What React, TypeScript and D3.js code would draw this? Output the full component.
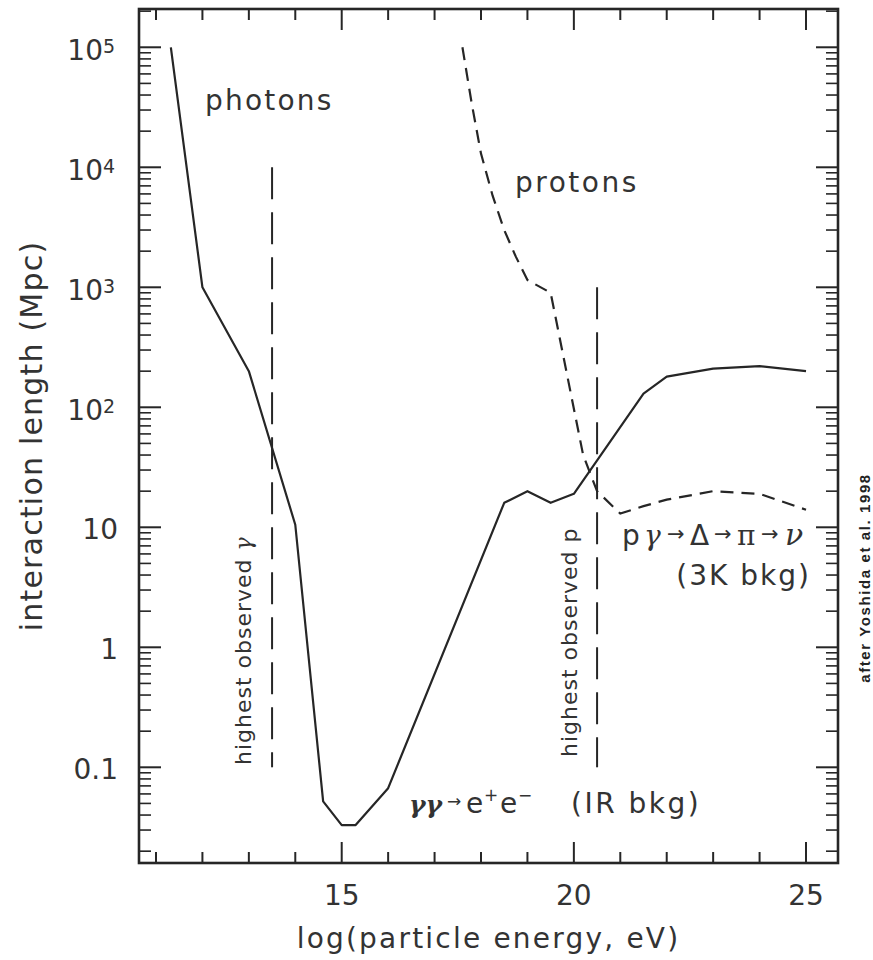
import React from "react";
import * as d3 from "d3";

// ---- data ----
const photonEnergy = [11.32, 12, 13, 14, 14.6, 15, 15.3, 16, 18.5, 19, 19.5, 20, 21.5, 22, 23, 24, 25];
const photonLength = [1e5, 1000, 200, 10.5, 0.052, 0.033, 0.033, 0.067, 16, 20, 16, 19, 130, 180, 210, 220, 200];

const protonEnergy = [17.6, 17.8, 18, 18.25, 18.5, 18.75, 19, 19.5, 20.2, 20.5, 21, 21.5, 22, 23, 24, 25];
const protonLength = [1e5, 3.4e4, 1.3e4, 5.8e3, 3.0e3, 1.8e3, 1.15e3, 900, 40, 20, 13, 15, 17, 20, 19, 14];

// highest observed energies (log eV) and vertical extent (Mpc)
const observedGamma = { energy: 13.5, top: 1e4, bottom: 0.1 };
const observedProton = { energy: 20.5, top: 1e3, bottom: 0.1 };

const xTickValues = [11, 12, 13, 14, 15, 16, 17, 18, 19, 20, 21, 22, 23, 24, 25];
const xMajorValues = [15, 20, 25];
const xTickLabels = ["15", "20", "25"];

const yTickValues = [0.1, 1, 10, 100, 1000, 1e4, 1e5];
const yTickBase = ["0.1", "1", "10", "10", "10", "10", "10"];
const yTickExp = ["", "", "", "2", "3", "4", "5"];
const yDecadeExponents = [-2, -1, 0, 1, 2, 3, 4, 5];
const yMinorMultipliers = [2, 3, 4, 5, 6, 7, 8, 9];

// ---- layout ----
const W = 873;
const H = 960;
const L = 139, R = 838, T = 9, B = 863;
const INK = "#262626";
const TXT = "#333";
const FONT = "'DejaVu Sans', sans-serif";
const SERIF = "'DejaVu Serif', serif";

export default function App() {
  const x = d3.scaleLinear().domain([10.634, 25.689]).range([L, R]);
  const y = d3.scaleLog().domain([Math.pow(10, -1.7975), Math.pow(10, 5.319)]).range([B, T]);

  const line = d3
    .line<[number, number]>()
    .x((d) => x(d[0]))
    .y((d) => y(d[1]));

  const photonPts = photonEnergy.map((e, i) => [e, photonLength[i]] as [number, number]);
  const protonPts = protonEnergy.map((e, i) => [e, protonLength[i]] as [number, number]);

  const yMinor: number[] = [];
  yDecadeExponents.forEach((p) =>
    yMinorMultipliers.forEach((m) => {
      const v = m * Math.pow(10, p);
      const py = y(v);
      if (py >= T + 1 && py <= B - 1) yMinor.push(v);
    })
  );

  const tickW = 2;
  const xMajLen = 21, xMinLen = 11, yMajLen = 22, yMinLen = 12;

  return (
    <svg width={W} height={H} viewBox={`0 0 ${W} ${H}`} style={{ display: "block", position: "absolute", left: 0, top: 0, background: "#fff" }}>
      <rect x={0} y={0} width={W} height={H} fill="#fff" />

      {/* ticks x (bottom & top, inward) */}
      {xTickValues.map((v) => {
        const major = xMajorValues.includes(v);
        const len = major ? xMajLen : xMinLen;
        return (
          <g key={"xt" + v} stroke={INK} strokeWidth={tickW}>
            <line x1={x(v)} x2={x(v)} y1={B} y2={B - len} />
            <line x1={x(v)} x2={x(v)} y1={T} y2={T + len} />
          </g>
        );
      })}
      {/* ticks y (left & right, inward) */}
      {yTickValues.map((v) => (
        <g key={"ytM" + v} stroke={INK} strokeWidth={tickW}>
          <line x1={L} x2={L + yMajLen} y1={y(v)} y2={y(v)} />
          <line x1={R} x2={R - yMajLen} y1={y(v)} y2={y(v)} />
        </g>
      ))}
      {yMinor.map((v) => (
        <g key={"ytm" + v} stroke={INK} strokeWidth={1.6}>
          <line x1={L} x2={L + yMinLen} y1={y(v)} y2={y(v)} />
          <line x1={R} x2={R - yMinLen} y1={y(v)} y2={y(v)} />
        </g>
      ))}

      {/* frame */}
      <rect x={L} y={T} width={R - L} height={B - T} fill="none" stroke={INK} strokeWidth={2.6} />

      {/* x tick labels */}
      {xMajorValues.map((v, i) => (
        <text key={"xl" + v} x={x(v)} y={905} textAnchor="middle" fontFamily={FONT} fontSize={28} fill={TXT}>
          {xTickLabels[i]}
        </text>
      ))}
      {/* y tick labels */}
      {yTickValues.map((v, i) =>
        yTickExp[i] ? (
          <g key={"yl" + v} fontFamily={FONT} fill={TXT}>
            <text x={103} y={y(v) + 12.5} textAnchor="end" fontSize={28}>
              {yTickBase[i]}
            </text>
            <text x={103} y={y(v) + 6} textAnchor="start" fontSize={19}>
              {yTickExp[i]}
            </text>
          </g>
        ) : (
          <text key={"yl" + v} x={118} y={y(v) + 11.5} textAnchor="end" fontFamily={FONT} fontSize={28} fill={TXT}>
            {yTickBase[i]}
          </text>
        )
      )}

      {/* axis titles */}
      <text x={(L + R) / 2} y={948} textAnchor="middle" fontFamily={FONT} fontSize={28} letterSpacing={2.2} fill={TXT}>
        log(particle energy, eV)
      </text>
      <text
        transform={`translate(42, ${(T + B) / 2}) rotate(-90)`}
        textAnchor="middle"
        fontFamily={FONT}
        fontSize={30}
        letterSpacing={1.2}
        fill={TXT}
      >
        interaction length (Mpc)
      </text>

      {/* vertical "highest observed" dashed lines */}
      <line
        x1={x(observedGamma.energy)}
        x2={x(observedGamma.energy)}
        y1={y(observedGamma.top)}
        y2={y(observedGamma.bottom)}
        stroke={INK}
        strokeWidth={2}
        strokeDasharray="32,13"
      />
      <line
        x1={x(observedProton.energy)}
        x2={x(observedProton.energy)}
        y1={y(observedProton.top)}
        y2={y(observedProton.bottom)}
        stroke={INK}
        strokeWidth={2}
        strokeDasharray="32,13"
      />

      {/* curves */}
      <path d={line(photonPts) || ""} fill="none" stroke={INK} strokeWidth={2.2} strokeLinejoin="round" />
      <path d={line(protonPts) || ""} fill="none" stroke={INK} strokeWidth={2.2} strokeDasharray="13,8" />

      {/* annotations */}
      <text x={205} y={110} fontFamily={FONT} fontSize={28} letterSpacing={2.2} fill={TXT}>
        photons
      </text>
      <text x={515} y={192} fontFamily={FONT} fontSize={28} letterSpacing={2.5} fill={TXT}>
        protons
      </text>
      <text transform={`translate(251, 765) rotate(-90)`} fontFamily={FONT} fontSize={22} letterSpacing={1} fill={TXT}>
        highest observed <tspan fontFamily={SERIF} fontStyle="italic">γ</tspan>
      </text>
      <text transform={`translate(577, 757) rotate(-90)`} fontFamily={FONT} fontSize={22} letterSpacing={1} fill={TXT}>
        highest observed p
      </text>

      <g fontFamily={FONT} fontSize={28} fill={TXT}>
        <text x={409} y={813} fontFamily={SERIF} fontStyle="italic" fontWeight="bold" fontSize={25}>γγ</text>
        <text x={447} y={807} fontSize={17}>→</text>
        <text x={466} y={813}>e</text>
        <text x={484} y={801} fontSize={17}>+</text>
        <text x={500} y={813}>e</text>
        <text x={518} y={801} fontSize={17}>−</text>
        <text x={571} y={813} letterSpacing={2.5}>(IR bkg)</text>
      </g>

      <g fontFamily={FONT} fontSize={28} fill={TXT}>
        <text x={622} y={545}>p</text>
        <text x={644} y={545} fontFamily={SERIF} fontStyle="italic">γ</text>
        <text x={667} y={541} fontSize={21}>→</text>
        <text x={690} y={545}>Δ</text>
        <text x={714} y={541} fontSize={21}>→</text>
        <text x={737} y={545} fontFamily={SERIF}>π</text>
        <text x={761} y={541} fontSize={21}>→</text>
        <text x={785} y={545} fontFamily={SERIF} fontStyle="italic" fontSize={30}>ν</text>
      </g>
      <text x={811} y={585} textAnchor="end" fontFamily={FONT} fontSize={28} letterSpacing={2} fill={TXT}>
        (3K bkg)
      </text>

      <text
        transform={`translate(870, 578) rotate(-90)`}
        textAnchor="middle"
        fontFamily="'Liberation Sans', Arial, sans-serif"
        fontWeight="bold"
        fontSize={15}
        letterSpacing={1.6}
        fill="#222"
      >
        after Yoshida et al. 1998
      </text>
    </svg>
  );
}
